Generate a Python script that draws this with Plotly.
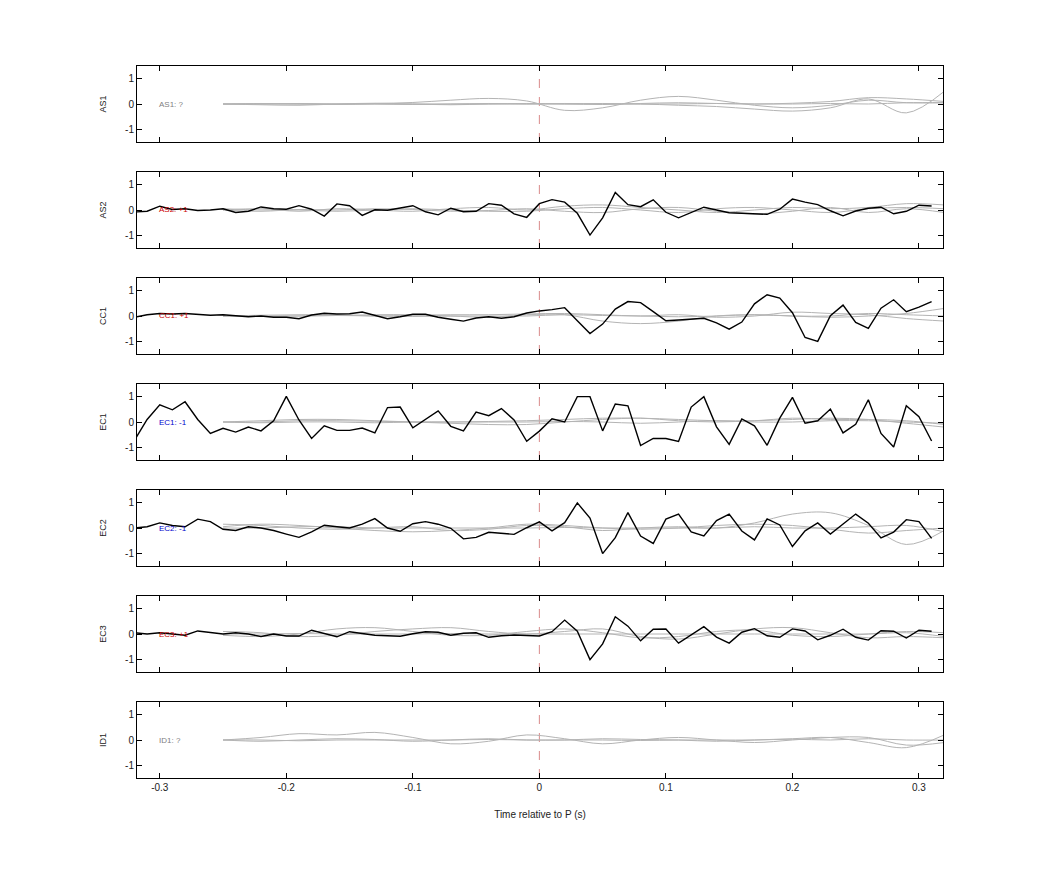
import plotly.graph_objects as go

# sample grid of the black traces (s)
t_black = [round(-0.32 + 0.01 * i, 2) for i in range(64)]
# coarse knots of the grey (smooth) traces (s)
t_grey = [-0.25, -0.22, -0.19, -0.16, -0.13, -0.10, -0.07, -0.04, -0.01, 0.02,
          0.05, 0.08, 0.11, 0.14, 0.17, 0.20, 0.23, 0.26, 0.29, 0.32]

stations = ["AS1", "AS2", "CC1", "EC1", "EC2", "EC3", "ID1"]
labels = ["AS1: ?", "AS2: +1", "CC1: +1", "EC1: -1", "EC2: -1", "EC3: +1", "ID1: ?"]
label_colors = ["#808080", "#cc0000", "#cc0000", "#0000cc", "#0000cc", "#cc0000", "#808080"]

black = {
    "AS2": [-0.08, -0.05, 0.15, 0.02, 0.05, -0.02, 0.0, 0.05, -0.1, -0.05, 0.12, 0.05,
            0.03, 0.17, 0.03, -0.24, 0.24, 0.17, -0.21, 0.01, -0.01, 0.07, 0.17, -0.07,
            -0.19, 0.07, -0.07, -0.05, 0.25, 0.19, -0.15, -0.29,
            0.25, 0.41, 0.31, -0.13, -0.99, -0.31, 0.69, 0.21, 0.13, 0.40, -0.09, -0.31,
            -0.09, 0.11, 0.0, -0.11, -0.13, -0.15, -0.17, 0.03, 0.43, 0.31, 0.21, -0.03,
            -0.23, -0.04, 0.07, 0.11, -0.15, -0.05, 0.19, 0.16],
    "CC1": [-0.05, 0.05, 0.1, 0.08, 0.1, 0.05, 0.03, 0.05, 0.0, -0.03, 0.0, -0.05,
            -0.05, -0.11, 0.04, 0.11, 0.08, 0.09, 0.16, 0.01, -0.11, -0.03, 0.07, 0.07,
            -0.05, -0.13, -0.2, -0.08, -0.03, -0.09, -0.03, 0.12,
            0.2, 0.25, 0.33, -0.19, -0.69, -0.32, 0.27, 0.57, 0.53, 0.17, -0.19, -0.16,
            -0.12, -0.09, -0.27, -0.52, -0.24, 0.48, 0.84, 0.71, 0.13, -0.85, -1.0, 0.01,
            0.43, -0.25, -0.49, 0.31, 0.64, 0.17, 0.35, 0.57],
    "EC1": [-0.72, 0.1, 0.68, 0.48, 0.8, 0.1, -0.45, -0.25, -0.4, -0.2, -0.35, 0.05,
            1.01, 0.08, -0.65, -0.15, -0.33, -0.33, -0.24, -0.43, 0.57, 0.59, -0.23, 0.09,
            0.44, -0.17, -0.35, 0.39, 0.25, 0.53, 0.08, -0.76,
            -0.36, 0.13, 0.0, 1.0, 1.0, -0.35, 0.71, 0.64, -0.93, -0.65, -0.65, -0.77,
            0.59, 1.0, -0.19, -0.88, 0.12, -0.15, -0.92, 0.15, 0.97, -0.05, 0.05, 0.51,
            -0.43, -0.09, 0.88, -0.45, -0.99, 0.64, 0.21, -0.75],
    "EC2": [0.0, 0.05, 0.2, 0.1, 0.05, 0.35, 0.25, -0.05, -0.1, 0.05, 0.0, -0.1,
            -0.24, -0.37, -0.15, 0.11, 0.05, 0.0, 0.15, 0.37, 0.0, -0.13, 0.17, 0.25,
            0.15, -0.01, -0.43, -0.37, -0.17, -0.21, -0.25, 0.01,
            0.24, -0.11, 0.21, 0.99, 0.39, -1.01, -0.38, 0.61, -0.32, -0.61, 0.35, 0.55,
            -0.15, -0.31, 0.29, 0.55, -0.12, -0.47, 0.36, 0.12, -0.73, -0.11, 0.2, -0.24,
            0.16, 0.55, 0.19, -0.39, -0.16, 0.33, 0.25, -0.41],
    "EC3": [0.05, 0.0, 0.05, 0.0, -0.05, 0.12, 0.05, 0.0, 0.05, 0.0, -0.1, 0.0,
            -0.08, -0.08, 0.15, 0.01, -0.11, 0.09, 0.01, -0.05, -0.07, -0.09, 0.01, 0.09,
            0.07, -0.05, 0.03, 0.05, -0.13, -0.07, -0.04, -0.05,
            -0.08, 0.09, 0.55, 0.11, -1.01, -0.39, 0.68, 0.31, -0.27, 0.19, 0.2, -0.36,
            -0.03, 0.29, -0.12, -0.36, 0.07, 0.21, -0.07, -0.13, 0.2, 0.12, -0.23, -0.05,
            0.19, -0.13, -0.24, 0.13, 0.11, -0.16, 0.15, 0.11],
}

grey = {
    "AS1": [[0, 0, 0, 0, 0.02, 0.06, 0.15, 0.22, 0.12, -0.25, -0.15, 0.15, 0.3, 0.15, -0.05, -0.15, -0.05, 0.15, 0.05, 0.05],
            [0, 0.02, 0, -0.02, 0, 0, 0, 0, 0, 0.02, 0, 0, -0.05, -0.1, -0.2, -0.28, -0.15, 0.2, -0.35, 0.5],
            [0, -0.03, -0.05, 0, 0.03, 0, -0.03, 0, 0.02, 0, -0.02, 0.02, 0.05, 0.02, 0, 0.03, 0.1, 0.25, 0.2, 0.1],
            [0, 0, 0.02, 0, 0, -0.02, 0, 0.02, 0, 0, 0.02, 0, 0, 0.02, 0, 0, 0.02, 0, 0.05, 0.05]],
    "AS2": [[0, 0.05, -0.05, 0.05, 0, -0.05, 0.05, 0.1, 0, 0.15, 0.2, 0.1, 0, -0.1, 0, 0.1, 0.05, 0.1, 0.25, 0.2],
            [0, -0.05, 0.02, 0, 0.05, 0.02, -0.05, -0.02, 0.05, -0.05, -0.1, 0.05, 0.1, -0.05, -0.15, -0.05, 0.1, -0.1, 0.05, -0.1],
            [0.05, 0, 0, -0.05, 0, 0.05, 0, -0.05, -0.05, 0.05, 0.1, 0, -0.1, 0.05, 0.1, 0, -0.1, 0.05, 0.1, 0.05]],
    "CC1": [[0, 0, 0, 0.02, 0.05, 0.05, 0, -0.05, 0.05, 0.05, -0.2, -0.3, -0.2, 0, 0.05, 0, -0.05, 0, 0.1, 0.3],
            [0, 0.03, 0.05, 0.05, 0, 0.03, 0.05, 0.05, 0.08, 0.1, 0.05, 0, 0.05, -0.05, 0, 0.15, 0.1, 0.05, -0.1, -0.2],
            [0, -0.02, 0, 0.02, 0, -0.02, 0, 0, 0, 0.05, 0.02, 0, -0.03, 0, 0.05, 0, 0, 0.1, 0.05, 0]],
    "EC1": [[0, 0.05, 0.1, 0.1, 0.05, 0, -0.05, -0.1, -0.1, 0, 0.1, 0.15, 0.05, 0, 0.05, 0.1, 0.15, 0.1, -0.05, -0.2],
            [0, 0, 0.05, 0.05, 0.03, 0, 0, 0.02, 0.05, 0.1, 0.15, 0.15, 0.1, 0.05, 0.05, 0.15, 0.1, 0.1, 0.05, -0.1],
            [0, -0.03, 0, 0, -0.03, 0, 0, 0, 0, 0.02, 0, -0.05, 0, 0.05, 0, 0, 0.05, 0.05, 0, -0.05]],
    "EC2": [[0.15, 0.1, 0, -0.05, 0, 0.05, -0.1, -0.05, 0.1, 0.05, -0.1, 0, 0.05, 0, 0.2, 0.55, 0.6, 0.1, -0.65, -0.1],
            [0.05, 0.15, 0.1, 0, -0.1, -0.15, -0.1, 0, 0.15, 0.1, 0, -0.05, 0, 0.1, 0.15, 0.1, -0.05, -0.2, -0.1, 0],
            [0, 0, 0.05, 0.05, 0, 0, 0, 0, 0, 0.02, 0, 0, 0, 0, 0.05, 0, 0, 0.05, 0.1, -0.15]],
    "EC3": [[0.1, 0.05, -0.1, -0.05, 0.1, 0.2, 0.25, 0.1, 0, 0.1, 0.2, -0.1, -0.2, 0, 0.2, 0.25, 0.05, -0.15, -0.1, -0.15],
            [-0.05, -0.1, 0, 0.2, 0.25, 0.1, -0.05, -0.05, 0.1, 0.2, 0.05, -0.15, -0.1, 0.1, 0.15, -0.05, -0.1, 0, 0.1, 0.05],
            [0, 0, 0.02, 0, 0, 0, 0.02, 0, 0, 0, 0, 0, 0, 0, 0, 0, 0, 0, 0.05, -0.1]],
    "ID1": [[0, 0.1, 0.25, 0.2, 0.3, 0.1, -0.15, -0.05, 0.2, 0.05, -0.15, 0, 0.1, 0, -0.1, 0, 0.1, 0.1, -0.2, -0.1],
            [0, -0.05, 0, 0.05, 0.02, -0.05, 0, 0.05, 0, 0, 0.05, 0.02, 0, -0.05, 0, 0.05, 0.1, -0.1, -0.3, 0.2],
            [0, 0, -0.03, 0, 0, 0, 0, 0.02, 0, 0, 0, -0.02, 0, 0, 0, 0.03, 0, 0.05, 0, 0]],
}

# page offset of 8 px (body margin) taken into account
W, H = 1042, 875
x_left, x_right = 129, 935
panel_top0, panel_h, panel_step = 58, 76, 106
x_range = [-0.318, 0.319]
font = dict(family="Liberation Sans, Arial, sans-serif", size=10, color="#222")

fig = go.Figure()
layout = dict(
    width=W, height=H, margin=dict(l=0, r=0, t=0, b=0),
    paper_bgcolor="white", plot_bgcolor="white", showlegend=False, font=font,
)
shapes, annotations = [], []

for i, st in enumerate(stations):
    n = "" if i == 0 else str(i + 1)
    xa, ya = "x" + n, "y" + n
    top = panel_top0 + i * panel_step
    bottom = top + panel_h
    last = i == len(stations) - 1

    for g in grey[st]:
        fig.add_trace(go.Scatter(x=t_grey, y=g, mode="lines", xaxis=xa, yaxis=ya,
                                 line=dict(color="#b4b4b4", width=1, shape="spline"),
                                 hoverinfo="skip"))
    if st in black:
        fig.add_trace(go.Scatter(x=t_black, y=black[st], mode="lines", xaxis=xa, yaxis=ya,
                                 line=dict(color="black", width=1.4)))

    axis_common = dict(showline=True, linecolor="black", linewidth=1, mirror="ticks",
                       ticks="inside", ticklen=5, tickcolor="black", showgrid=False,
                       zeroline=False, tickfont=font)
    layout["xaxis" + n] = dict(axis_common, domain=[x_left / W, x_right / W], range=x_range,
                               anchor=ya, tickvals=[-0.3, -0.2, -0.1, 0, 0.1, 0.2, 0.3],
                               ticktext=["-0.3", "-0.2", "-0.1", "0", "0.1", "0.2", "0.3"],
                               showticklabels=last)
    if last:
        layout["xaxis" + n]["title"] = dict(text="Time relative to P (s)", font=font, standoff=18)
    layout["yaxis" + n] = dict(axis_common, domain=[1 - bottom / H, 1 - top / H], range=[-1.5, 1.5],
                               anchor=xa, tickvals=[-1, 0, 1], ticktext=["-1", "0", "1"],
                               title=dict(text=st, font=dict(font, size=9), standoff=16))

    shapes.append(dict(type="line", xref=xa, yref=ya, x0=0, x1=0, y0=-1.5, y1=1.5,
                       line=dict(color="#d98a8a", width=1, dash="dash"), layer="below"))
    annotations.append(dict(x=-0.302, y=0, xref=xa, yref=ya, text=labels[i], showarrow=False,
                            xanchor="left", yanchor="middle",
                            font=dict(family=font["family"], size=8, color=label_colors[i])))

layout["shapes"] = shapes
layout["annotations"] = annotations
fig.update_layout(**layout)
fig.write_html("out.html")
